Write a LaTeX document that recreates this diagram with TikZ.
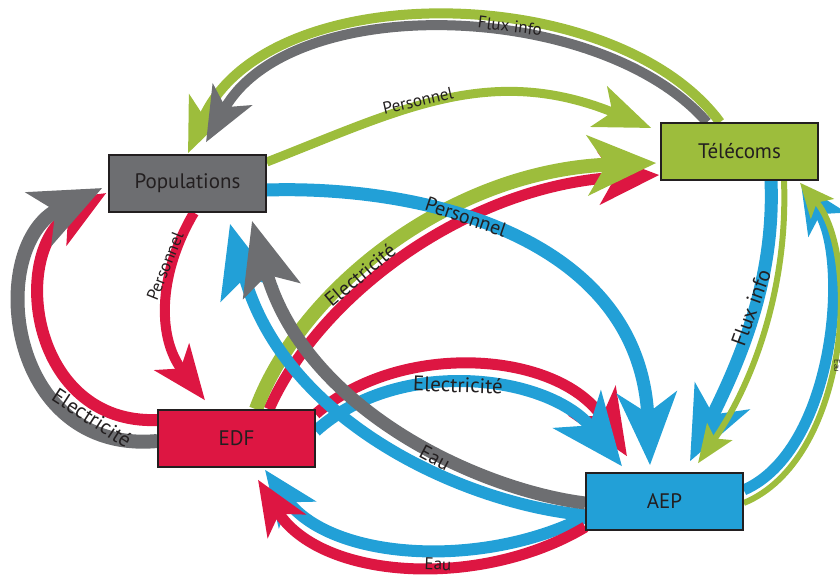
\documentclass[tikz,border=0pt]{standalone}
\usepackage{fontspec}
\setmainfont{PT Sans}
\usetikzlibrary{arrows.meta,backgrounds}
\definecolor{cgray}{HTML}{6D6E71}
\definecolor{cgreen}{HTML}{9DBD3C}
\definecolor{cred}{HTML}{DD1642}
\definecolor{cblue}{HTML}{22A0D7}
\definecolor{ctext}{HTML}{231F20}
\tikzset{
  box/.style={draw=ctext, line width=1.5pt, minimum width=157pt, minimum height=57pt, inner sep=0pt, text=ctext, font=\fontsize{21}{24}\selectfont},
  lbl/.style={text=ctext, inner sep=0pt, font=\fontsize{#1}{#1}\selectfont},
  hd/.style n args={3}{-{Stealth[length=#1pt,width=#2pt,inset=#3pt]}}
}
\begin{document}
\begin{tikzpicture}[x=1pt,y=-1pt]
\useasboundingbox (0,0) rectangle (840,574);
\node[box, fill=cgray] (pop) at (187.5,183.5) {Populations};
\node[box, fill=cgreen] (tel) at (739.5,151.5) {Télécoms};
\node[box, fill=cred] (edf) at (236.5,438.5) {EDF};
\node[box, fill=cblue] (aep) at (664.5,501.5) {AEP};

\begin{scope}[on background layer]
% EDF -> Telecoms : Electricite
\draw[cred, line width=11pt, hd={60}{52}{16}] ([shift={(32.5,0)}]edf.north) .. controls (318,298) and (465,185) .. ([shift={(-1,23.5)}]tel.west);
\draw[cgreen, line width=14pt, hd={68}{59}{18}] ([shift={(19.5,0)}]edf.north) .. controls (300,290) and (450,170) .. ([shift={(-4,11.5)}]tel.west);
% EDF -> AEP : Electricite
\draw[cred, line width=11pt, hd={65}{55}{18}] ([shift={(0,-24.5)}]edf.east) .. controls (400,340) and (560,350) .. ([shift={(-37.5,-16)}]aep.north);
\draw[cblue, line width=12pt, hd={72}{60}{20}] ([shift={(0,-7.5)}]edf.east) .. controls (400,355) and (550,375) .. ([shift={(-42.5,-6)}]aep.north);
% AEP -> Populations : Eau
\draw[cblue, line width=12pt, hd={72}{58}{16}] ([shift={(0,13.5)}]aep.west) .. controls (470,505) and (285,425) .. ([shift={(42.5,11)}]pop.south);
\draw[cgray, line width=13pt, hd={72}{58}{16}] ([shift={(0,1.5)}]aep.west) .. controls (480,490) and (305,410) .. ([shift={(64.5,8)}]pop.south);
% Populations -> AEP : Personnel
\draw[cblue, line width=13pt, hd={72}{59}{20}] ([shift={(0,6.5)}]pop.east) .. controls (430,185) and (640,240) .. ([shift={(-14.5,-7)}]aep.north);
% AEP -> EDF : Eau
\draw[cblue, line width=12pt, hd={55}{45}{15}] ([shift={(0,15.5)}]aep.west) .. controls (480,570) and (330,560) .. ([shift={(28.5,2)}]edf.south);
\draw[cred, line width=11pt, hd={54}{44}{14}] ([shift={(0,25.5)}]aep.west) .. controls (480,590) and (320,580) .. ([shift={(21.5,12)}]edf.south);
% Telecoms -> Populations : Flux info
\draw[cgreen, line width=10pt, hd={54}{44}{14}] ([shift={(-19.5,0)}]tel.north) .. controls (615,-20) and (265,-25) .. ([shift={(0.5,-1)}]pop.north);
\draw[cgray, line width=10pt, hd={54}{44}{14}] ([shift={(-32.5,0)}]tel.north) .. controls (600,0) and (290,-10) .. ([shift={(18.5,-12)}]pop.north);
% Populations -> Telecoms : Personnel
\draw[cgreen, line width=9pt, hd={56}{43}{14}] ([shift={(0,-21.5)}]pop.east) .. controls (400,110) and (490,62) .. ([shift={(-9,-23.5)}]tel.west);
% Telecoms -> AEP : Flux info
\draw[cblue, line width=13pt, hd={72}{60}{20}] ([shift={(31.5,0)}]tel.south) .. controls (775,280) and (740,360) .. ([shift={(25.5,-11)}]aep.north);
\draw[cgreen, line width=6pt, hd={38}{30}{8}] ([shift={(44.5,0)}]tel.south) .. controls (788,285) and (755,380) .. ([shift={(33.5,-9)}]aep.north);
% AEP -> Telecoms : Eau
\draw[cblue, line width=11pt, hd={48}{44}{12}] ([shift={(0,-11.5)}]aep.east) .. controls (835,450) and (850,260) .. ([shift={(61.5,3)}]tel.south);
\draw[cgreen, line width=6pt, hd={34}{30}{8}] ([shift={(0,1.5)}]aep.east) .. controls (848,460) and (862,255) .. ([shift={(60.5,2)}]tel.south);
% Populations -> EDF : Personnel
\draw[cred, line width=10pt, hd={54}{43}{14}] ([shift={(6.5,0)}]pop.south) .. controls (160,270) and (155,335) .. ([shift={(-31.5,-9)}]edf.north);
% EDF -> Populations : Electricite
\draw[cred, line width=12pt, hd={60}{50}{16}] ([shift={(0,-18.5)}]edf.west) .. controls (30,425) and (8,250) .. ([shift={(-2,9.5)}]pop.west);
\draw[cgray, line width=14pt, hd={70}{58}{18}] ([shift={(0,2.5)}]edf.west) .. controls (5,455) and (-15,245) .. ([shift={(-6,4.5)}]pop.west);
\end{scope}

\node[lbl=17, rotate=-7] (l1) at (510,26) {Flux info};
\node[lbl=17, rotate=13] (l2) at (418,101) {Personnel};
\node[lbl=20, rotate=-19] (l3) at (466,217) {Personnel};
\node[lbl=20, rotate=40] (l4) at (360,275) {Electricité};
\node[lbl=21, rotate=-2] (l5) at (458,385) {Electricité};
\node[lbl=20, rotate=-28] (l6) at (435,458) {Eau};
\node[lbl=17, rotate=-2] (l7) at (438,564) {Eau};
\node[lbl=21, rotate=70] (l8) at (751,308) {Flux info};
\node[lbl=8, rotate=-90] (l9) at (837,366) {Eau};
\node[lbl=17, rotate=68] (l10) at (165,266) {Personnel};
\node[lbl=21, rotate=-33] (l11) at (92,418) {Electricité};
\end{tikzpicture}
\end{document}
